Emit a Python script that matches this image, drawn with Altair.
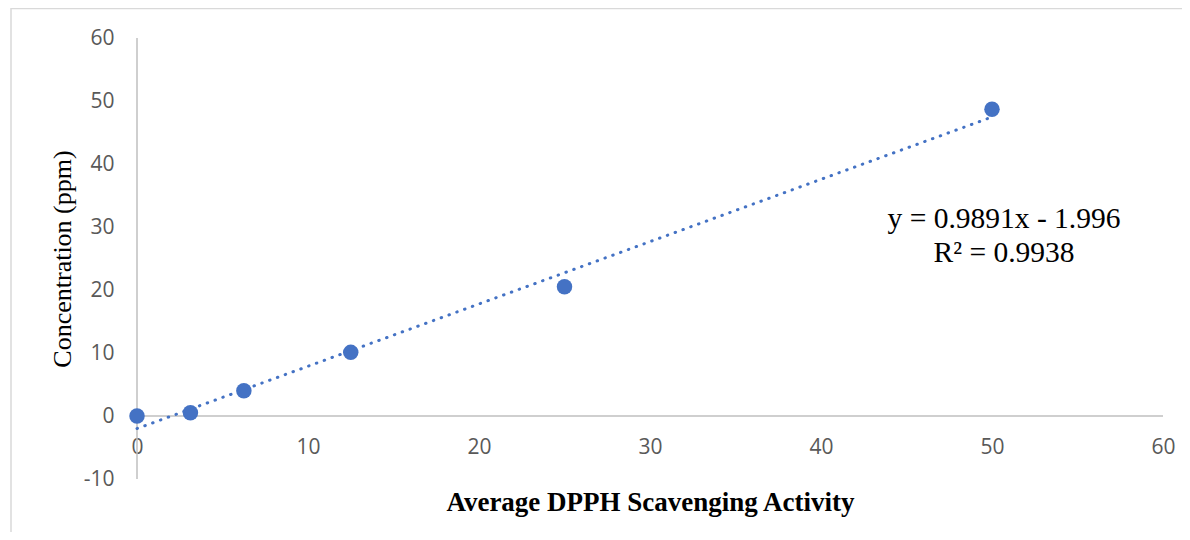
import altair as alt
import pandas as pd

# ---- data ----
activity = [0, 3.125, 6.25, 12.5, 25, 50]
concentration = [0.0, 0.5, 4.0, 10.1, 20.5, 48.7]
slope = 0.9891
intercept = -1.996
trend_x = [0, 50]
x_ticks = [0, 10, 20, 30, 40, 50, 60]
y_ticks = [-10, 0, 10, 20, 30, 40, 50, 60]
eq_lines = ["y = 0.9891x - 1.996", "R\u00b2 = 0.9938"]

x_title = "Average DPPH Scavenging Activity"
y_title = "Concentration (ppm)"

BLUE = "#4472C4"
AXIS_GRAY = "#BFBFBF"
LABEL_GRAY = "#595959"
BORDER_GRAY = "#D9D9D9"

W, H = 1026, 441
PAD = {"left": 129, "top": 30, "right": 19, "bottom": 53}

xs = alt.Scale(domain=[0, 60], nice=False, zero=False)
ys = alt.Scale(domain=[-10, 60], nice=False, zero=False)

pts = pd.DataFrame({"x": activity, "y": concentration})
trend = pd.DataFrame({"x": trend_x, "y": [slope * v + intercept for v in trend_x]})
one = pd.DataFrame({"k": [0]})

x_axis = alt.Axis(
    values=x_ticks, domain=False, ticks=False, grid=False,
    offset=-H * 10 / 70, labelFlush=False,
    labelExpr="toString(datum.value)",
    labelPadding=31, labelBaseline="middle",
    labelFont="Open Sans", labelFontSize=21, labelColor=LABEL_GRAY,
    title=x_title, titleFont="Liberation Serif", titleFontSize=27,
    titleFontWeight="bold", titleColor="black",
    titleY=86, titleBaseline="middle",
)
y_axis = alt.Axis(
    values=y_ticks, domain=False, ticks=False, grid=False,
    labelPadding=23, labelFlush=False,
    labelExpr="toString(datum.value)",
    labelFont="Open Sans", labelFontSize=21, labelColor=LABEL_GRAY,
    title=y_title, titleFont="Liberation Serif", titleFontSize=26,
    titleFontWeight="normal", titleColor="black",
    titleX=-75, titleAngle=-90, titleAlign="center", titleBaseline="middle",
)


def X(field="x"):
    return alt.X(f"{field}:Q", scale=xs, axis=x_axis, title=x_title)


def Y(field="y"):
    return alt.Y(f"{field}:Q", scale=ys, axis=y_axis, title=y_title)


points = alt.Chart(pts).mark_point(
    filled=True, size=240, color=BLUE, opacity=1, strokeWidth=0
).encode(x=X(), y=Y())

yline = alt.Chart(pd.DataFrame({"x": [0], "y": [-10], "y2": [60]})).mark_rule(
    color=AXIS_GRAY, strokeWidth=1.5
).encode(x=X(), y=Y(), y2="y2:Q")

xline = alt.Chart(pd.DataFrame({"x": [0], "x2": [60], "y": [0]})).mark_rule(
    color=AXIS_GRAY, strokeWidth=1.5
).encode(x=X(), x2="x2:Q", y=Y())

trendline = alt.Chart(trend).mark_line(
    color=BLUE, strokeWidth=3, strokeDash=[0.5, 7.8], strokeCap="round"
).encode(x=X(), y=Y())

border_top = alt.Chart(one).mark_rule(color=BORDER_GRAY, strokeWidth=1.5).encode(
    x=alt.value(-PAD["left"] + 3), x2=alt.value(W + PAD["right"] + 10), y=alt.value(-PAD["top"] + 0.6)
)
border_left = alt.Chart(one).mark_rule(color=BORDER_GRAY, strokeWidth=1.5).encode(
    x=alt.value(-PAD["left"] + 3), y=alt.value(-PAD["top"]), y2=alt.value(H + PAD["bottom"] + 10)
)

eq1 = alt.Chart(one).mark_text(
    text=eq_lines[0], font="Liberation Serif", fontSize=29.5, color="black",
    align="center", baseline="middle"
).encode(x=alt.value(867), y=alt.value(181))
eq2 = alt.Chart(one).mark_text(
    text=eq_lines[1], font="Liberation Serif", fontSize=29.5, color="black",
    align="center", baseline="middle"
).encode(x=alt.value(867), y=alt.value(215))

chart = alt.layer(
    border_top, border_left, yline, xline, points, trendline, eq1, eq2
).properties(
    width=W, height=H,
    autosize=alt.AutoSizeParams(type="none"),
    padding=PAD,
).configure(background="white").configure_view(stroke=None, strokeWidth=0)

chart.save("out.html", embed_options={"renderer": "svg", "actions": False})
